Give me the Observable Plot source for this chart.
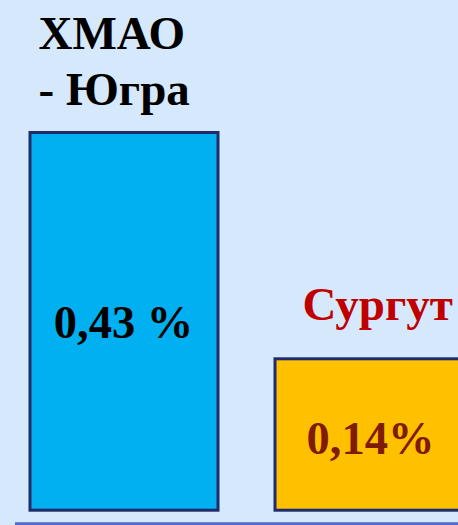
<!DOCTYPE html>
<html>
<head>
<meta charset="utf-8">
<script src="https://cdn.jsdelivr.net/npm/d3@7"></script>
<script src="https://cdn.jsdelivr.net/npm/@observablehq/plot@0.6"></script>
<style>
  html, body { margin: 0; padding: 0; background: #d5e8fc; overflow: hidden; }
  #chart svg { overflow: hidden; display: block; background: #d5e8fc; }
  #chart svg text { font-family: "Times New Roman", "Liberation Serif", "DejaVu Serif", serif !important; }
</style>
</head>
<body>
<div id="chart"></div>
<script>
const categories = ["ХМАО - Югра", "Сургут"];
const values = [0.43, 0.14];
const headings = ["ХМАО\n- Югра", "Сургут"];
const valueLabels = ["0,43 %", "0,14%"];

const barFills = ["#00b0f0", "#ffc000"];
const yBase = -0.054;

const data = categories.map((c, i) => ({
  cat: c, value: values[i], heading: headings[i], label: valueLabels[i]
}));

const font = "Times New Roman, Liberation Serif, serif";

const chart = Plot.plot({
  width: 458,
  height: 525,
  marginLeft: 15,
  marginRight: 0,
  marginTop: 0,
  marginBottom: 0,
  style: { background: "#d5e8fc" },
  x: { domain: categories, range: [29.8, 464.2], paddingInner: 0.232, paddingOuter: 0, align: 0, axis: null },
  y: { domain: [yBase, 0.43], range: [510.2, 132.5], axis: null },
  color: { domain: categories, range: barFills },
  marks: [
    Plot.barY(data, { x: "cat", y1: yBase, y2: "value", fill: "cat", stroke: "#1f2c6c", strokeWidth: 3 }),
    Plot.ruleY([yBase], { dy: 13.3, stroke: "#4f69cf", strokeWidth: 3.6 }),
    Plot.text(data.filter(d => d.cat === categories[0]), {
      x: "cat", y: "value", text: "heading", textAnchor: "start", lineAnchor: "bottom",
      lineHeight: 1.19, dx: -86, dy: -28.5, fontSize: 47, fontWeight: "bold", fontFamily: font, fill: "#000000"
    }),
    Plot.text(data.filter(d => d.cat === categories[1]), {
      x: "cat", y: "value", text: "heading", textAnchor: "start", lineAnchor: "bottom",
      dx: -67, dy: -39, fontSize: 47, fontWeight: "bold", fontFamily: font, fill: "#c00000"
    }),
    Plot.text(data.filter(d => d.cat === categories[0]), {
      x: "cat", y: d => (d.value + yBase) / 2, text: "label", lineAnchor: "bottom",
      dx: -1, dy: 16.6, fontSize: 46.5, fontWeight: "bold", fontFamily: font, fill: "#000000"
    }),
    Plot.text(data.filter(d => d.cat === categories[1]), {
      x: "cat", y: d => (d.value + yBase) / 2, text: "label", lineAnchor: "bottom",
      dx: 1, dy: 18.5, fontSize: 46.5, fontWeight: "bold", fontFamily: font, fill: "#7f1b00"
    })
  ]
});

document.getElementById("chart").appendChild(chart);
</script>
</body>
</html>
